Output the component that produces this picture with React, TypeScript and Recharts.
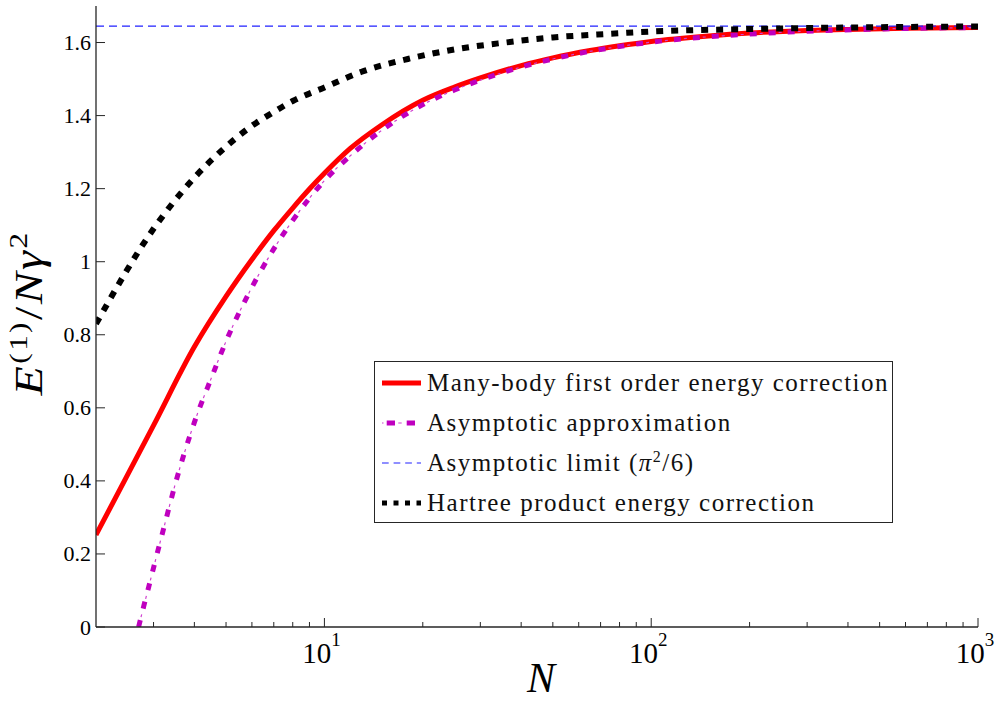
import React from 'react';
import { LineChart, Line, XAxis, YAxis, Legend } from 'recharts';

// many-body first order energy correction (red, solid)
const manyBodyN = [2, 3, 4, 5, 6, 7, 8, 9, 10, 12, 15, 20, 25, 30, 40, 50, 65, 80, 100, 150, 200, 300, 400, 600, 1000];
const manyBodyE = [0.252, 0.552, 0.767, 0.905, 1.006, 1.085, 1.147, 1.199, 1.242, 1.31, 1.375, 1.442, 1.478, 1.503, 1.537, 1.558, 1.578, 1.591, 1.603, 1.618, 1.626, 1.633, 1.636, 1.639, 1.641];

// asymptotic approximation (magenta, dash-dot)
const asymN = [2.7, 2.8, 2.9, 3, 3.25, 3.5, 4, 4.5, 5, 6, 7, 8, 10, 12, 15, 20, 25, 30, 40, 50, 100, 200, 500, 1000];
const asymE = [0, 0.057, 0.11, 0.162, 0.283, 0.393, 0.56, 0.68, 0.782, 0.93, 1.035, 1.113, 1.222, 1.29, 1.36, 1.43, 1.47, 1.497, 1.533, 1.555, 1.601, 1.623, 1.637, 1.641];

// asymptotic limit pi^2/6 (blue, dashed)
const limitN = [2, 1000];
const limitE = [1.6449, 1.6449];

// hartree product energy correction (black, dotted)
const hartreeN = [2, 3, 4, 5, 6, 7, 8, 10, 13, 18, 25, 35, 50, 75, 100, 200, 500, 1000];
const hartreeE = [0.83, 1.09, 1.23, 1.315, 1.372, 1.41, 1.44, 1.477, 1.52, 1.555, 1.581, 1.599, 1.614, 1.624, 1.63, 1.637, 1.642, 1.644];

const xTicks = [3, 4, 5, 6, 7, 8, 9, 10, 20, 30, 40, 50, 60, 70, 80, 90, 100, 200, 300, 400, 500, 600, 700, 800, 900, 1000];
const xMajor = [10, 100, 1000];
const yTicks = [0, 0.2, 0.4, 0.6, 0.8, 1, 1.2, 1.4, 1.6];

const legendLabels = [
  'Many-body first order energy correction',
  'Asymptotic approximation',
  'Asymptotic limit',
  'Hartree product energy correction',
];

const toRows = (ns: number[], es: number[]) => ns.map((n, i) => ({ n, e: es[i] }));

const FONT = '"Liberation Serif", "Times New Roman", Times, serif';
const AXIS = '#262626';
const RED = '#ff0000';
const MAGENTA = '#bf00bf';
const BLUE = '#2020ff';

const BottomTick = (props: any) => {
  const { x, y, payload } = props;
  const major = xMajor.includes(payload.value);
  return (
    <g>
      <line x1={x} x2={x} y1={y} y2={y - (major ? 9 : 5)} stroke={AXIS} strokeWidth={1} />
      {major && (
        <text x={x - 3} y={y + 36} textAnchor="middle" fontFamily={FONT} fontSize={29} fill="#000">
          10
          <tspan dy={-17} fontSize={19}>
            {Math.round(Math.log10(payload.value))}
          </tspan>
        </text>
      )}
    </g>
  );
};

const TopTick = (props: any) => {
  const { x, y, payload } = props;
  const major = xMajor.includes(payload.value);
  return <line x1={x} x2={x} y1={y} y2={y + (major ? 9 : 5)} stroke={AXIS} strokeWidth={1} />;
};

const LeftTick = (props: any) => {
  const { x, y, payload } = props;
  return (
    <g>
      <line x1={x} x2={x + 9} y1={y} y2={y} stroke={AXIS} strokeWidth={1} />
      <text x={x - 5} y={y + 7.5} textAnchor="end" fontFamily={FONT} fontSize={22} fill="#000">
        {String(payload.value)}
      </text>
    </g>
  );
};

const RightTick = (props: any) => {
  const { x, y } = props;
  return <line x1={x} x2={x - 9} y1={y} y2={y} stroke={AXIS} strokeWidth={1} />;
};

const YLabel = () => (
  <text
    x={0}
    y={0}
    transform="translate(42, 313) rotate(-90) scale(1.2, 1)"
    textAnchor="middle"
    fontFamily={FONT}
    fontSize={40}
    letterSpacing={2}
    fill="#000"
  >
    <tspan fontStyle="italic">E</tspan>
    <tspan dy={-15} fontSize={26}>(1)</tspan>
    <tspan dy={15}>/</tspan>
    <tspan fontStyle="italic">Nγ</tspan>
    <tspan dy={-15} fontSize={26}>2</tspan>
  </text>
);

const XLabel = () => (
  <text x={541} y={692} textAnchor="middle" fontFamily={FONT} fontSize={42} fontStyle="italic" fill="#000">
    N
  </text>
);

const Swatch = ({ index }: { index: number }) => {
  if (index === 0) {
    return <line x1={0} x2={39} y1={6} y2={6} stroke={RED} strokeWidth={5} />;
  }
  if (index === 1) {
    return (
      <g>
        <line x1={4.7} x2={39} y1={6} y2={6} stroke={MAGENTA} strokeWidth={5} strokeDasharray="8.3 11.7" />
        <line x1={0} x2={39} y1={6} y2={6} stroke="#d040d0" strokeWidth={1.2} strokeDasharray="1.5 14.8 3.4 20" />
      </g>
    );
  }
  if (index === 2) {
    return <line x1={0} x2={39} y1={6} y2={6} stroke={BLUE} strokeWidth={1.2} strokeDasharray="6.7 4.9" />;
  }
  return <line x1={0} x2={39} y1={6} y2={6} stroke="#000" strokeWidth={5} strokeDasharray="5 6.5" />;
};

const LegendBox = () => (
  <div
    style={{
      boxSizing: 'border-box',
      width: 519,
      height: 162,
      border: `1.5px solid ${AXIS}`,
      background: '#fff',
      paddingTop: 1,
      fontFamily: FONT,
      fontSize: 25,
      color: '#111',
    }}
  >
    {legendLabels.map((label, i) => (
      <div key={label} style={{ height: 40, display: 'flex', alignItems: 'center' }}>
        <svg width={40} height={12} style={{ marginLeft: 7, flex: 'none' }}>
          <Swatch index={i} />
        </svg>
        <span style={{ marginLeft: 5, letterSpacing: 1.5, whiteSpace: 'nowrap', lineHeight: '40px' }}>
          {label}
          {i === 2 && (
            <>
              {' ('}
              <i>π</i>
              <span style={{ fontSize: 16, verticalAlign: 'super', lineHeight: 0 }}>2</span>
              {'/6)'}
            </>
          )}
        </span>
      </div>
    ))}
  </div>
);

export default function App() {
  return (
    <div style={{ position: 'absolute', left: 0, top: 0, background: '#fff' }}>
      <LineChart width={997} height={702} margin={{ top: 6, right: 19, bottom: 0, left: 0 }}>
        <XAxis
          xAxisId="b"
          dataKey="n"
          type="number"
          scale="log"
          domain={[2, 1000]}
          allowDataOverflow
          ticks={xTicks}
          interval={0}
          tick={BottomTick}
          tickLine={false}
          tickSize={0}
          tickMargin={0}
          height={75}
          axisLine={{ stroke: AXIS, strokeWidth: 1.3 }}
          label={<XLabel />}
        />
        <XAxis
          xAxisId="t"
          orientation="top"
          dataKey="n"
          type="number"
          scale="log"
          domain={[2, 1000]}
          allowDataOverflow
          ticks={xTicks}
          interval={0}
          tick={TopTick}
          tickLine={false}
          tickSize={0}
          tickMargin={0}
          height={0}
          axisLine={{ stroke: AXIS, strokeWidth: 1.3 }}
        />
        <YAxis
          yAxisId="l"
          type="number"
          domain={[0, 1.7]}
          allowDataOverflow
          ticks={yTicks}
          interval={0}
          tick={LeftTick}
          tickLine={false}
          tickSize={0}
          tickMargin={0}
          width={96}
          axisLine={{ stroke: AXIS, strokeWidth: 1.3 }}
          label={<YLabel />}
        />
        <YAxis
          yAxisId="r"
          orientation="right"
          type="number"
          domain={[0, 1.7]}
          allowDataOverflow
          ticks={yTicks}
          interval={0}
          tick={RightTick}
          tickLine={false}
          tickSize={0}
          tickMargin={0}
          width={0}
          axisLine={{ stroke: AXIS, strokeWidth: 1.3 }}
        />
        <Line
          xAxisId="b"
          yAxisId="l"
          data={toRows(manyBodyN, manyBodyE)}
          dataKey="e"
          type="monotone"
          stroke={RED}
          strokeWidth={5}
          dot={false}
          isAnimationActive={false}
        />
        <Line
          xAxisId="b"
          yAxisId="l"
          data={toRows(asymN, asymE)}
          dataKey="e"
          type="monotone"
          stroke={MAGENTA}
          strokeWidth={5}
          strokeDasharray="7 12"
          dot={false}
          isAnimationActive={false}
        />
        <Line
          xAxisId="b"
          yAxisId="l"
          data={toRows(asymN, asymE)}
          dataKey="e"
          type="monotone"
          stroke="#d040d0"
          strokeWidth={1.2}
          strokeDasharray="0 10 3 6"
          dot={false}
          isAnimationActive={false}
          legendType="none"
        />
        <Line
          xAxisId="b"
          yAxisId="l"
          data={toRows(limitN, limitE)}
          dataKey="e"
          type="linear"
          stroke={BLUE}
          strokeWidth={1.2}
          strokeDasharray="8 5"
          dot={false}
          isAnimationActive={false}
        />
        <Line
          xAxisId="b"
          yAxisId="l"
          data={toRows(hartreeN, hartreeE)}
          dataKey="e"
          type="monotone"
          stroke="#000"
          strokeWidth={6}
          strokeDasharray="7 8"
          dot={false}
          isAnimationActive={false}
        />
        <Legend
          layout="vertical"
          align="center"
          verticalAlign="middle"
          wrapperStyle={{ left: 374, top: 361, width: 519, height: 162 }}
          content={<LegendBox />}
        />
      </LineChart>
    </div>
  );
}
